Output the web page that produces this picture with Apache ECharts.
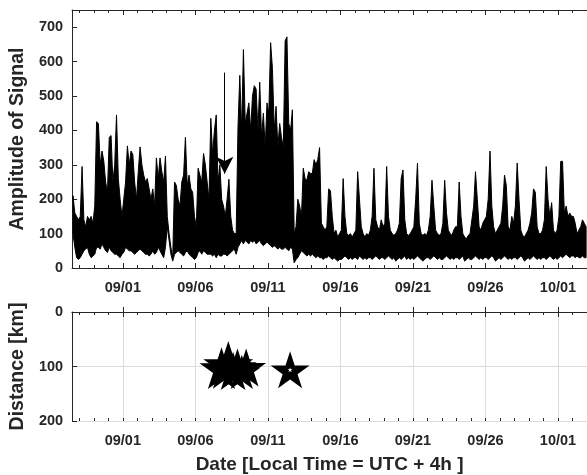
<!DOCTYPE html>
<html>
<head>
<meta charset="utf-8">
<script src="https://cdn.jsdelivr.net/npm/echarts@6/dist/echarts.min.js"></script>
<style>html,body{margin:0;padding:0;background:#fff}#main{width:587px;height:475px}</style>
</head>
<body>
<div id="main"></div>
<script>
// x values are days counted from 08/27 00:00 (so 09/01 = 5)
var xMin = 1.5, xMax = 37;
var tickDays = [5, 10, 15, 20, 25, 30, 35];
var tickLabels = ['09/01', '09/06', '09/11', '09/16', '09/21', '09/26', '10/01'];
var ampTicks = [0, 100, 200, 300, 400, 500, 600, 700];
var distTicks = [0, 100, 200];

// signal envelope, one value per 3 h, starting 08/28 12:00
var ampHigh = [
  210, 160, 150, 140,
  150, 295, 140, 120, 150, 140, 150, 130,
  180, 425, 420, 300, 340, 310, 250, 220,
  380, 385, 250, 300, 445, 260, 200, 150,
  200, 250, 355, 300, 340, 330, 250, 200,
  280, 352, 300, 270, 250, 260, 230, 200,
  230, 180, 320, 260, 320, 280, 250, 325,
  150, 100, 60, 30, 250, 240, 200, 180,
  250, 270, 380, 240, 270, 230, 220, 150,
  120, 290, 270, 250, 333, 300, 250, 200,
  435, 330, 400, 445, 250, 300, 200, 180,
  150, 200, 258, 150, 110, 100, 100, 410,
  560, 400, 635, 420, 450, 480, 400, 500,
  530, 520, 400, 540, 380, 450, 350, 480,
  450, 655, 580, 400, 470, 350, 420, 380,
  350, 660, 672, 420, 400, 460, 100, 120,
  200, 180, 150, 290, 260, 255, 280, 275,
  275, 315, 300, 315, 350, 130, 120, 110,
  120, 230, 225, 150, 100, 110, 90, 100,
  110, 260, 150, 100, 95, 100, 90, 100,
  110, 280, 200, 120, 100, 90, 100, 95,
  110, 150, 290, 140, 120, 110, 140, 120,
  130, 295, 150, 110, 100, 95, 100, 110,
  130, 260, 285, 140, 100, 95, 100, 110,
  120, 200, 305, 130, 100, 95, 100, 95,
  110, 150, 255, 180, 110, 100, 95, 100,
  130, 255, 160, 110, 100, 95, 110, 120,
  120, 250, 150, 100, 90, 85, 95, 100,
  140, 180, 280, 200, 120, 110, 130, 140,
  150, 200, 340, 180, 120, 100, 110, 120,
  130, 180, 270, 240, 120, 110, 150, 130,
  180, 305, 200, 110, 95, 90, 100, 110,
  130, 160, 230, 220, 120, 100, 100, 110,
  140, 295, 200, 150, 190, 110, 100, 110,
  150, 310, 310, 160, 180, 150, 160, 150,
  150, 130, 100, 110, 120, 140, 130, 120
];
var ampLow = [
  100, 60, 30, 25,
  30, 40, 50, 55, 60, 40, 30, 35,
  40, 60, 60, 55, 70, 60, 50, 45,
  60, 50, 45, 40, 40, 35, 30, 40,
  45, 60, 55, 50, 50, 45, 40, 45,
  50, 55, 50, 45, 40, 40, 35, 40,
  50, 40, 45, 60, 50, 40, 30, 60,
  120, 80, 40, 20, 40, 45, 50, 45,
  40, 35, 45, 50, 40, 35, 30, 25,
  30, 45, 50, 40, 50, 45, 40, 40,
  40, 35, 40, 30, 40, 35, 35, 40,
  40, 35, 40, 45, 50, 55, 40, 60,
  70, 80, 70, 80, 75, 70, 80, 75,
  80, 70, 75, 80, 70, 65, 70, 75,
  70, 65, 60, 65, 60, 55, 60, 55,
  55, 60, 55, 50, 60, 55, 15, 25,
  30, 40, 50, 45, 40, 35, 40, 35,
  40, 35, 30, 35, 30, 30, 25, 30,
  30, 35, 30, 25, 30, 25, 20, 25,
  25, 30, 35, 30, 25, 30, 25, 30,
  30, 25, 35, 30, 25, 30, 25, 30,
  30, 25, 30, 35, 30, 25, 30, 30,
  25, 30, 35, 30, 25, 30, 20, 25,
  30, 25, 30, 35, 25, 30, 25, 30,
  25, 30, 35, 30, 25, 20, 25, 30,
  30, 25, 30, 35, 30, 25, 30, 25,
  25, 30, 35, 30, 25, 30, 25, 30,
  30, 25, 30, 35, 20, 25, 30, 25,
  25, 30, 35, 30, 25, 30, 25, 30,
  30, 25, 30, 35, 30, 20, 25, 30,
  25, 30, 35, 30, 25, 30, 25, 30,
  30, 25, 30, 35, 30, 20, 25, 30,
  25, 30, 35, 30, 25, 30, 25, 30,
  30, 25, 30, 35, 30, 25, 30, 25,
  30, 35, 30, 35, 40, 35, 30, 35,
  35, 30, 35, 30, 30, 35, 30, 30
];

// arrow annotation (day, top value, tip value)
var arrowDay = 12.02, arrowTop = 568, arrowTip = 274;

// events in the lower panel
var eventDay = [11.8, 12.27, 12.6, 12.9, 13.2, 13.5, 16.53];
var eventDist = [103, 97, 108, 100, 110, 102, 106];
var eventSize = [44, 50, 40, 38, 36, 40, 39];

// one row per 3 h bin: [time, low, high]
var band = ampHigh.map(function (h, i) { return [xMin + i * 0.125 + 0.0625, ampLow[i], h]; });
var events = eventDay.map(function (d, i) { return [d, eventDist[i], eventSize[i]]; });
var lastEv = events.length - 1;

var dayTicks = [];
for (var d = 2; d <= 37; d++) dayTicks.push(d);

function starPath(r0, r1) {
  var pts = [];
  for (var k = 0; k < 10; k++) {
    var a = -Math.PI / 2 + k * Math.PI / 5;
    var r = k % 2 ? r1 : r0;
    pts.push((r * Math.cos(a)).toFixed(4) + ',' + (r * Math.sin(a)).toFixed(4));
  }
  return 'path://M' + pts.join('L') + 'Z';
}
var STAR = starPath(1, 0.382);

var ink = '#262626';
var font = 'Liberation Sans, Arial, sans-serif';

function xAxes(g, grid, title) {
  var base = { gridIndex: g, type: 'value', min: xMin, max: xMax };
  return [
    Object.assign({}, base, {
      position: 'bottom',
      axisLine: { lineStyle: { color: ink, width: 1 } },
      axisTick: { inside: true, length: 5, customValues: tickDays, lineStyle: { color: ink } },
      axisLabel: {
        customValues: tickDays, margin: 12, color: ink, fontWeight: 'bold', fontSize: 14.5, fontFamily: font,
        formatter: function (v) { var k = tickDays.indexOf(v); return k < 0 ? '' : tickLabels[k]; }
      },
      splitLine: { show: grid, lineStyle: { color: '#dcdcdc', width: 1 } },
      name: title || '', nameLocation: 'middle', nameGap: 34,
      nameTextStyle: { color: ink, fontWeight: 'bold', fontSize: 19, fontFamily: font }
    }),
    Object.assign({}, base, {
      position: 'bottom', axisLine: { show: false },
      axisTick: { inside: true, length: 3, customValues: dayTicks, lineStyle: { color: ink } },
      axisLabel: { show: false }, splitLine: { show: false }
    }),
    Object.assign({}, base, {
      position: 'top',
      axisLine: { lineStyle: { color: ink, width: 1 } },
      axisTick: { inside: true, length: 5, customValues: tickDays, lineStyle: { color: ink } },
      axisLabel: { show: false }, splitLine: { show: false }
    }),
    Object.assign({}, base, {
      position: 'top', axisLine: { show: false },
      axisTick: { inside: true, length: 3, customValues: dayTicks, lineStyle: { color: ink } },
      axisLabel: { show: false }, splitLine: { show: false }
    })
  ];
}

// draws the whole min/max envelope as one filled shape
function renderBand(params, api) {
  if (params.dataIndex !== 0) return null;
  var top = [], bottom = [];
  for (var i = 0; i < band.length; i++) {
    top.push(api.coord([band[i][0], band[i][2]]));
    bottom.push(api.coord([band[i][0], band[i][1]]));
  }
  return {
    type: 'polygon',
    shape: { points: top.concat(bottom.reverse()) },
    style: { fill: '#000', stroke: '#000', lineWidth: 1, lineJoin: 'miter' }
  };
}

var chart = echarts.init(document.getElementById('main'), null, { renderer: 'canvas' });
chart.setOption({
  animation: false,
  backgroundColor: '#fff',
  grid: [
    { left: 70, right: -6, top: 10, height: 258 },
    { left: 70, right: -6, top: 312, height: 109.5 }
  ],
  xAxis: xAxes(0, false).concat(xAxes(1, true, 'Date [Local Time = UTC + 4h ]')),
  yAxis: [
    {
      gridIndex: 0, type: 'value', min: 0, max: 750,
      axisLine: { show: true, lineStyle: { color: ink } },
      axisTick: { show: true, inside: true, length: 5, customValues: ampTicks, lineStyle: { color: ink } },
      axisLabel: { customValues: ampTicks, margin: 9, color: ink, fontWeight: 'bold', fontSize: 14.5, fontFamily: font },
      splitLine: { show: false },
      name: 'Amplitude of Signal', nameLocation: 'middle', nameGap: 44,
      nameTextStyle: { color: ink, fontWeight: 'bold', fontSize: 19.5, fontFamily: font }
    },
    {
      gridIndex: 1, type: 'value', min: 0, max: 200, inverse: true,
      axisLine: { show: true, lineStyle: { color: ink } },
      axisTick: { show: true, inside: true, length: 5, customValues: distTicks, lineStyle: { color: ink } },
      axisLabel: { customValues: distTicks, margin: 9, color: ink, fontWeight: 'bold', fontSize: 14.5, fontFamily: font },
      splitLine: { show: true, lineStyle: { color: '#dcdcdc', width: 1 } },
      name: 'Distance [km]', nameLocation: 'middle', nameGap: 44,
      nameTextStyle: { color: ink, fontWeight: 'bold', fontSize: 19.5, fontFamily: font }
    }
  ],
  series: [
    {
      type: 'custom', xAxisIndex: 0, yAxisIndex: 0, data: band,
      encode: { x: 0, y: [1, 2] }, renderItem: renderBand, clip: true, silent: true
    },
    {
      type: 'line', xAxisIndex: 0, yAxisIndex: 0, data: [], silent: true,
      markLine: {
        silent: true, symbol: ['none', 'arrow'], symbolSize: [13, 17],
        lineStyle: { color: '#000', width: 1, type: 'solid' },
        label: { show: false },
        data: [[{ coord: [arrowDay, arrowTop] }, { coord: [arrowDay, arrowTip] }]]
      }
    },
    {
      type: 'scatter', xAxisIndex: 4, yAxisIndex: 1, data: events,
      symbol: STAR, symbolKeepAspect: true,
      symbolSize: function (v) { return v[2]; },
      itemStyle: { color: '#000', opacity: 1 }
    },
    {
      type: 'scatter', xAxisIndex: 4, yAxisIndex: 1, data: [events[lastEv]],
      symbol: STAR, symbolKeepAspect: true, symbolSize: 5,
      itemStyle: { color: '#fff', opacity: 1 }
    }
  ]
});
</script>
</body>
</html>
